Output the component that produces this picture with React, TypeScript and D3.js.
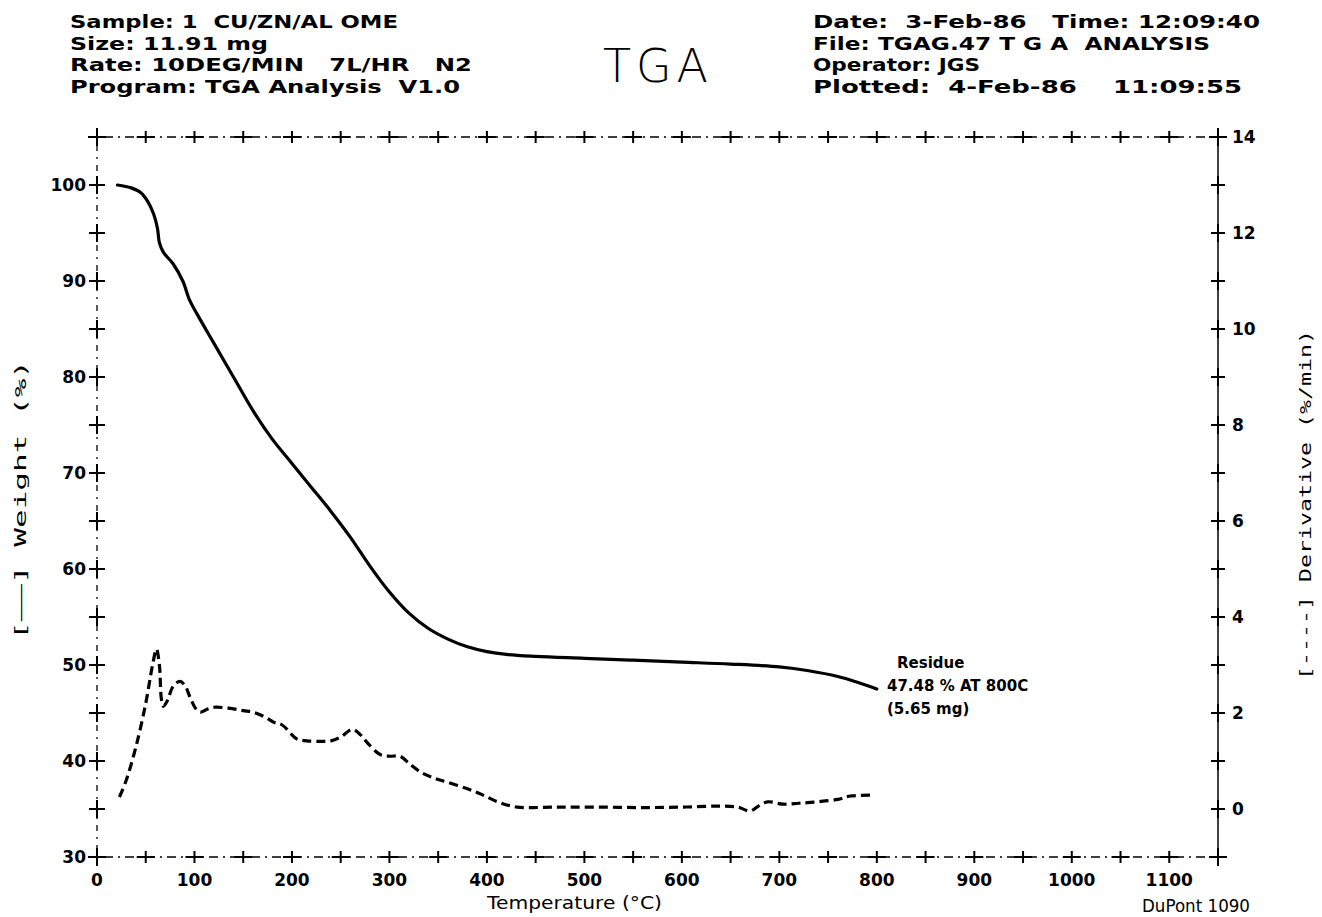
import { useEffect, useRef } from 'react'
import * as d3 from 'd3'

// weight curve: temperature (°C), weight (%)
const weightTemp = [21, 35, 45, 52, 58, 62, 64, 68, 78, 88, 95, 103, 120, 140, 160, 180, 200, 220, 240, 260, 280, 300, 320, 340, 360, 380, 400, 420, 450, 500, 550, 600, 650, 700, 730, 760, 780, 800]
const weightPct = [100, 99.7, 99.2, 98.3, 97, 95.5, 94, 93, 91.8, 90, 88, 86.5, 83.5, 80, 76.5, 73.5, 71, 68.5, 66, 63.3, 60.3, 57.6, 55.4, 53.8, 52.7, 51.9, 51.4, 51.1, 50.9, 50.7, 50.5, 50.3, 50.1, 49.8, 49.4, 48.8, 48.2, 47.5]

// derivative curve: temperature (°C), %/min
const derivTemp = [23, 30, 40, 50, 57, 61, 64, 66, 68, 72, 78, 85, 90, 96, 101, 106, 113, 120, 135, 150, 160, 172, 181, 190, 205, 215, 229, 240, 250, 262, 270, 277, 290, 300, 311, 320, 332, 345, 359, 380, 395, 411, 431, 470, 513, 560, 602, 636, 657, 670, 680, 688, 704, 720, 739, 760, 773, 795]
const derivVal = [0.25, 0.6, 1.3, 2.2, 3.0, 3.33, 3.0, 2.3, 2.14, 2.25, 2.55, 2.66, 2.58, 2.3, 2.1, 2.02, 2.08, 2.12, 2.1, 2.05, 2.02, 1.92, 1.81, 1.75, 1.46, 1.42, 1.41, 1.42, 1.5, 1.66, 1.55, 1.39, 1.14, 1.1, 1.1, 0.95, 0.77, 0.65, 0.56, 0.42, 0.3, 0.15, 0.04, 0.04, 0.04, 0.03, 0.04, 0.06, 0.04, -0.04, 0.08, 0.15, 0.1, 0.12, 0.15, 0.2, 0.27, 0.29]

const xTickLabels = [0, 100, 200, 300, 400, 500, 600, 700, 800, 900, 1000, 1100]
const weightTickLabels = [30, 40, 50, 60, 70, 80, 90, 100]
const derivTickLabels = [0, 2, 4, 6, 8, 10, 12, 14]

const headerLeft = [
  'Sample: 1  CU/ZN/AL OME',
  'Size: 11.91 mg',
  'Rate: 10DEG/MIN   7L/HR   N2',
  'Program: TGA Analysis  V1.0',
]
const headerLeftEnds = [398, 268, 472, 460]
const headerRight = [
  'Date:  3-Feb-86   Time: 12:09:40',
  'File: TGAG.47 T G A  ANALYSIS',
  'Operator: JGS',
  'Plotted:  4-Feb-86    11:09:55',
]
const headerRightEnds = [1260, 1210, 980, 1242]
const residueLines = ['Residue', '47.48 % AT 800C', '(5.65 mg)']

export default function App() {
  const svgRef = useRef<SVGSVGElement>(null)

  useEffect(() => {
    if (!svgRef.current) return
    const svg = d3.select(svgRef.current)
    svg.selectAll('*').remove()

    const W = 1322, H = 917
    svg.attr('width', W).attr('height', H).attr('viewBox', `0 0 ${W} ${H}`)
    svg.append('rect').attr('width', W).attr('height', H).attr('fill', '#fff')

    const x = d3.scaleLinear().domain([0, 1150]).range([97, 1218])
    const yW = d3.scaleLinear().domain([30, 105]).range([857, 137])
    const yD = d3.scaleLinear().domain([-1, 14]).range([857, 137])
    const left = x(0), right = x(1150), top = yW(105), bottom = yW(30)
    const font = 'DejaVu Sans, sans-serif'

    // frame
    const dashDot = '2,5,9,5'
    svg.append('line').attr('x1', left).attr('x2', right).attr('y1', top).attr('y2', top)
      .attr('stroke', '#000').attr('stroke-width', 1.3).attr('stroke-dasharray', dashDot)
    svg.append('line').attr('x1', left).attr('x2', right).attr('y1', bottom).attr('y2', bottom)
      .attr('stroke', '#000').attr('stroke-width', 1.3).attr('stroke-dasharray', dashDot)
    svg.append('line').attr('x1', left).attr('x2', left).attr('y1', top).attr('y2', bottom)
      .attr('stroke', '#000').attr('stroke-width', 1.3).attr('stroke-dasharray', '2,6,6,6')
    svg.append('line').attr('x1', right).attr('x2', right).attr('y1', top).attr('y2', bottom)
      .attr('stroke', '#000').attr('stroke-width', 1.5)

    const g = svg.append('g').attr('stroke', '#000').attr('stroke-width', 2)

    // x crosses on top and bottom every 50°C
    const xt = d3.range(0, 1151, 50)
    for (const yy of [top, bottom]) {
      xt.forEach((t) => {
        const px = x(t)
        g.append('line').attr('x1', px).attr('x2', px).attr('y1', yy - 6).attr('y2', yy + 6)
        g.append('line').attr('x1', px - 9).attr('x2', px + 9).attr('y1', yy).attr('y2', yy)
      })
    }
    // left crosses every 5 %
    d3.range(30, 106, 5).forEach((v) => {
      const py = yW(v)
      g.append('line').attr('x1', left - 8).attr('x2', left + 8).attr('y1', py).attr('y2', py)
      g.append('line').attr('x1', left).attr('x2', left).attr('y1', py - 9).attr('y2', py + 9)
    })
    // right crosses every 1 %/min
    d3.range(-1, 15, 1).forEach((v) => {
      const py = yD(v)
      g.append('line').attr('x1', right - 7).attr('x2', right + 7).attr('y1', py).attr('y2', py)
      g.append('line').attr('x1', right).attr('x2', right).attr('y1', py - 9).attr('y2', py + 9)
    })

    // tick labels
    svg.append('g').selectAll('text').data(xTickLabels).join('text')
      .attr('x', (d) => x(d)).attr('y', 886).attr('text-anchor', 'middle')
      .attr('font-family', font).attr('font-weight', 'bold').attr('font-size', 17)
      .text((d) => String(d))
    svg.append('g').selectAll('text').data(weightTickLabels).join('text')
      .attr('x', left - 11).attr('y', (d) => yW(d) + 6).attr('text-anchor', 'end')
      .attr('font-family', font).attr('font-weight', 'bold').attr('font-size', 17)
      .text((d) => String(d))
    svg.append('g').selectAll('text').data(derivTickLabels).join('text')
      .attr('x', right + 14).attr('y', (d) => yD(d) + 6).attr('text-anchor', 'start')
      .attr('font-family', font).attr('font-weight', 'bold').attr('font-size', 17)
      .text((d) => String(d))

    // curves
    const wLine = d3.line<number>().x((_, i) => x(weightTemp[i])).y((d) => yW(d)).curve(d3.curveCatmullRom)
    svg.append('path').attr('d', wLine(weightPct)).attr('fill', 'none')
      .attr('stroke', '#000').attr('stroke-width', 3.2).attr('stroke-linecap', 'round')
    const dLine = d3.line<number>().x((_, i) => x(derivTemp[i])).y((d) => yD(d)).curve(d3.curveCatmullRom)
    svg.append('path').attr('d', dLine(derivVal)).attr('fill', 'none')
      .attr('stroke', '#000').attr('stroke-width', 3.2).attr('stroke-dasharray', '9,5')

    // header text
    headerLeft.forEach((t, i) => {
      svg.append('text').attr('x', 70).attr('y', 28 + i * 21.5)
        .style('white-space', 'pre')
        .attr('font-family', font).attr('font-size', 17).attr('font-weight', 'bold')
        .attr('textLength', headerLeftEnds[i] - 70).attr('lengthAdjust', 'spacingAndGlyphs')
        .text(t)
    })
    headerRight.forEach((t, i) => {
      svg.append('text').attr('x', 813).attr('y', 28 + i * 21.5)
        .style('white-space', 'pre')
        .attr('font-family', font).attr('font-size', 17).attr('font-weight', 'bold')
        .attr('textLength', headerRightEnds[i] - 813).attr('lengthAdjust', 'spacingAndGlyphs')
        .text(t)
    })
    svg.append('text').attr('x', 603).attr('y', 82)
      .attr('font-family', font).attr('font-size', 46).attr('font-weight', 200)
      .attr('textLength', 105).attr('lengthAdjust', 'spacing')
      .text('TGA')

    // residue annotation
    const resX = [897, 887, 887]
    residueLines.forEach((t, i) => {
      svg.append('text').attr('x', resX[i]).attr('y', 668 + i * 23)
        .attr('font-family', font).attr('font-size', 15).attr('font-weight', 'bold')
        .text(t)
    })

    // axis titles
    svg.append('text').attr('x', 487).attr('y', 909)
      .attr('font-family', font).attr('font-size', 18).attr('font-weight', 500)
      .attr('textLength', 175).attr('lengthAdjust', 'spacingAndGlyphs')
      .text('Temperature (°C)')
    svg.append('text').attr('x', 1142).attr('y', 912)
      .attr('font-family', font).attr('font-size', 18).attr('font-weight', 500)
      .attr('textLength', 108).attr('lengthAdjust', 'spacingAndGlyphs')
      .text('DuPont 1090')
    svg.append('text').attr('transform', 'translate(26,500) rotate(-90)').attr('text-anchor', 'middle')
      .attr('font-family', 'DejaVu Sans Mono, monospace').attr('font-size', 16)
      .attr('textLength', 280).attr('lengthAdjust', 'spacingAndGlyphs')
      .text('[——] Weight (%)')
    svg.append('text').attr('transform', 'translate(1311,505) rotate(-90)').attr('text-anchor', 'middle')
      .attr('font-family', 'DejaVu Sans Mono, monospace').attr('font-size', 16)
      .attr('textLength', 350).attr('lengthAdjust', 'spacingAndGlyphs')
      .text('[----] Derivative (%/min)')
  }, [])

  return (
    <div style={{ position: 'absolute', left: 0, top: 0 }}>
      <svg ref={svgRef} />
    </div>
  )
}
